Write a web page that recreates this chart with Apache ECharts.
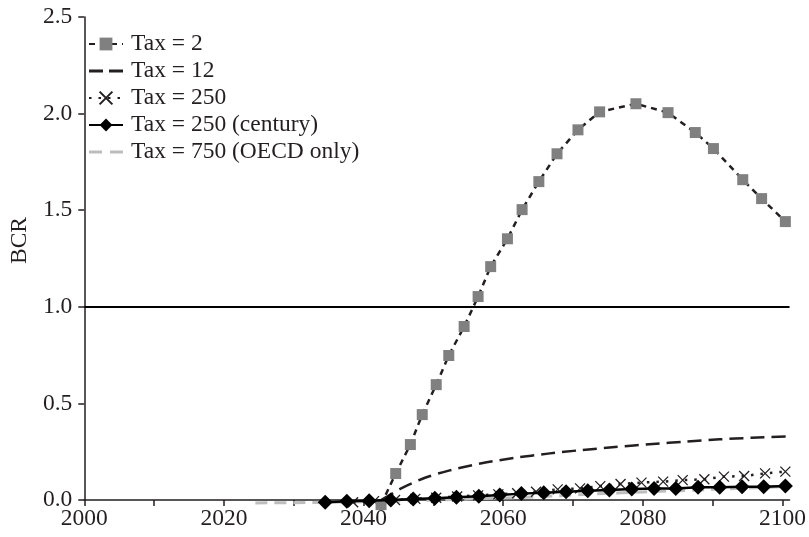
<!DOCTYPE html>
<html>
<head>
<meta charset="utf-8">
<script src="https://cdn.jsdelivr.net/npm/echarts@6/dist/echarts.min.js"></script>
<style>html,body{margin:0;padding:0;background:#fff}#c{width:809px;height:537px}</style>
</head>
<body>
<div id="c"></div>
<script>
var seriesNames = ['Tax = 2', 'Tax = 12', 'Tax = 250', 'Tax = 250 (century)', 'Tax = 750 (OECD only)'];

var tax2Years = [2042.5,2044.6,2046.7,2048.4,2050.4,2052.2,2054.4,2056.4,2058.2,2060.6,2062.7,2065.1,2067.7,2070.7,2073.8,2079.0,2083.6,2087.5,2090.1,2094.3,2097.0,2100.4];
var tax2Values = [-0.024,0.137,0.287,0.442,0.597,0.748,0.898,1.053,1.208,1.352,1.503,1.648,1.792,1.916,2.009,2.051,2.005,1.902,1.819,1.658,1.560,1.441];

var tax12Years = [2042.5,2043.5,2045.6,2048.8,2052.2,2056.9,2061.6,2066.4,2071.1,2076.0,2081.4,2086.0,2091.0,2095.5,2100.5];
var tax12Values = [0.0,0.02,0.064,0.115,0.152,0.19,0.218,0.24,0.258,0.274,0.29,0.302,0.314,0.322,0.329];

var tax250Years = [2038.5,2041.5,2044.5,2047.4,2050.4,2053.4,2056.4,2059.3,2062.0,2064.7,2067.8,2071.0,2073.9,2076.8,2079.8,2082.9,2085.7,2088.8,2091.6,2094.5,2097.5,2100.4];
var tax250Values = [-0.012,-0.006,0.0,0.006,0.012,0.018,0.024,0.029,0.035,0.043,0.055,0.060,0.072,0.083,0.090,0.095,0.103,0.107,0.121,0.124,0.138,0.147];

var centuryYears = [2034.5,2037.6,2040.8,2043.9,2047.1,2050.2,2053.3,2056.5,2059.5,2062.6,2065.8,2069.0,2072.1,2075.2,2078.4,2081.6,2084.7,2087.9,2091.0,2094.2,2097.3,2100.4];
var centuryValues = [-0.012,-0.007,-0.004,0.0,0.005,0.009,0.014,0.019,0.026,0.033,0.038,0.043,0.048,0.052,0.057,0.060,0.060,0.066,0.066,0.069,0.069,0.072];

var oecdYears = [2024.5,2030,2035,2040,2045,2050,2055,2060,2065,2070,2075,2080,2085,2090,2095,2100.4];
var oecdValues = [-0.015,-0.014,-0.012,-0.009,-0.005,0.0,0.005,0.010,0.017,0.026,0.035,0.042,0.048,0.055,0.062,0.069];

var xTickValues = [2000,2010,2020,2030,2040,2050,2060,2070,2080,2090,2100];
var xLabelValues = [2000,2020,2040,2060,2080,2100];
var referenceLevel = 1.0;

function zip(xs, ys) { return xs.map(function (x, i) { return [x, ys[i]]; }); }

var FONT = 'Liberation Serif';
var INK = '#231f20';
var FS = 23.5;
var dashIcon = 'path://M0,0h14v3h-14z M20,0h14v3h-14z';
var greyDashIcon = 'path://M0,0h13v3h-13z M21,0h13v3h-13z';

var chart = echarts.init(document.getElementById('c'), null, {renderer: 'canvas'});
chart.setOption({
  animation: false,
  backgroundColor: '#fff',
  grid: {left: 78, right: 18, top: 17, bottom: 37, containLabel: false},
  legend: {
    orient: 'vertical',
    left: 83,
    top: 26,
    itemWidth: 34,
    itemHeight: 16,
    itemGap: 1,
    data: [
      {name: seriesNames[0]},
      {name: seriesNames[1], icon: dashIcon},
      {name: seriesNames[2]},
      {name: seriesNames[3]},
      {name: seriesNames[4], icon: greyDashIcon}
    ],
    textStyle: {fontFamily: FONT, fontSize: FS, color: INK, lineHeight: 26, padding: [0, 0, 0, 3]}
  },
  xAxis: {
    type: 'value',
    min: 2000,
    max: 2101,
    interval: 10,
    splitLine: {show: false},
    axisLine: {show: true, onZero: false, lineStyle: {color: INK, width: 1.5}},
    axisTick: {show: true, length: 6, customValues: xTickValues, lineStyle: {color: INK, width: 1.5}},
    axisLabel: {customValues: xLabelValues, fontFamily: FONT, fontSize: FS, color: INK, margin: 7,
      formatter: function (v) { return String(v); }}
  },
  yAxis: {
    type: 'value',
    min: 0,
    max: 2.5,
    interval: 0.5,
    name: 'BCR',
    nameLocation: 'middle',
    nameGap: 50,
    nameTextStyle: {fontFamily: FONT, fontSize: FS, color: INK, padding: [0, 0, 0, 36]},
    splitLine: {show: false},
    axisLine: {show: true, lineStyle: {color: INK, width: 1.5}},
    axisTick: {show: true, length: 6, lineStyle: {color: INK, width: 1.5}},
    axisLabel: {fontFamily: FONT, fontSize: FS, color: INK, margin: 12,
      formatter: function (v) { return v.toFixed(1); }}
  },
  series: [
    {
      name: seriesNames[0], type: 'line', clip: false, z: 3,
      data: zip(tax2Years, tax2Values),
      symbol: 'rect', symbolSize: 11,
      itemStyle: {color: '#808080'},
      lineStyle: {color: '#231f20', width: 2.5, type: [6, 5]},
      markLine: {
        silent: true, symbol: 'none', label: {show: false},
        lineStyle: {color: '#000', width: 2, type: 'solid'},
        data: [{yAxis: referenceLevel}]
      }
    },
    {
      name: seriesNames[1], type: 'line', clip: false, z: 2,
      data: zip(tax12Years, tax12Values),
      symbol: 'none', smooth: 0.3,
      itemStyle: {color: '#231f20'},
      lineStyle: {color: '#231f20', width: 2.5, type: [14, 7]}
    },
    {
      name: seriesNames[2], type: 'line', clip: false, z: 2,
      data: zip(tax250Years, tax250Values),
      symbol: 'path://M0,0L10,10M10,0L0,10', symbolSize: 10,
      itemStyle: {color: '#231f20', borderColor: '#231f20', borderWidth: 1.3},
      lineStyle: {color: '#231f20', width: 2.5, type: [2.5, 7]}
    },
    {
      name: seriesNames[3], type: 'line', clip: false, z: 4,
      data: zip(centuryYears, centuryValues),
      symbol: 'diamond', symbolSize: [15, 15],
      itemStyle: {color: '#000'},
      lineStyle: {color: '#000', width: 2.5, type: 'solid'}
    },
    {
      name: seriesNames[4], type: 'line', clip: false, z: 1,
      data: zip(oecdYears, oecdValues),
      symbol: 'none',
      itemStyle: {color: '#bdbdbd'},
      lineStyle: {color: '#bdbdbd', width: 3, type: [12, 7]}
    }
  ]
});
</script>
</body>
</html>
